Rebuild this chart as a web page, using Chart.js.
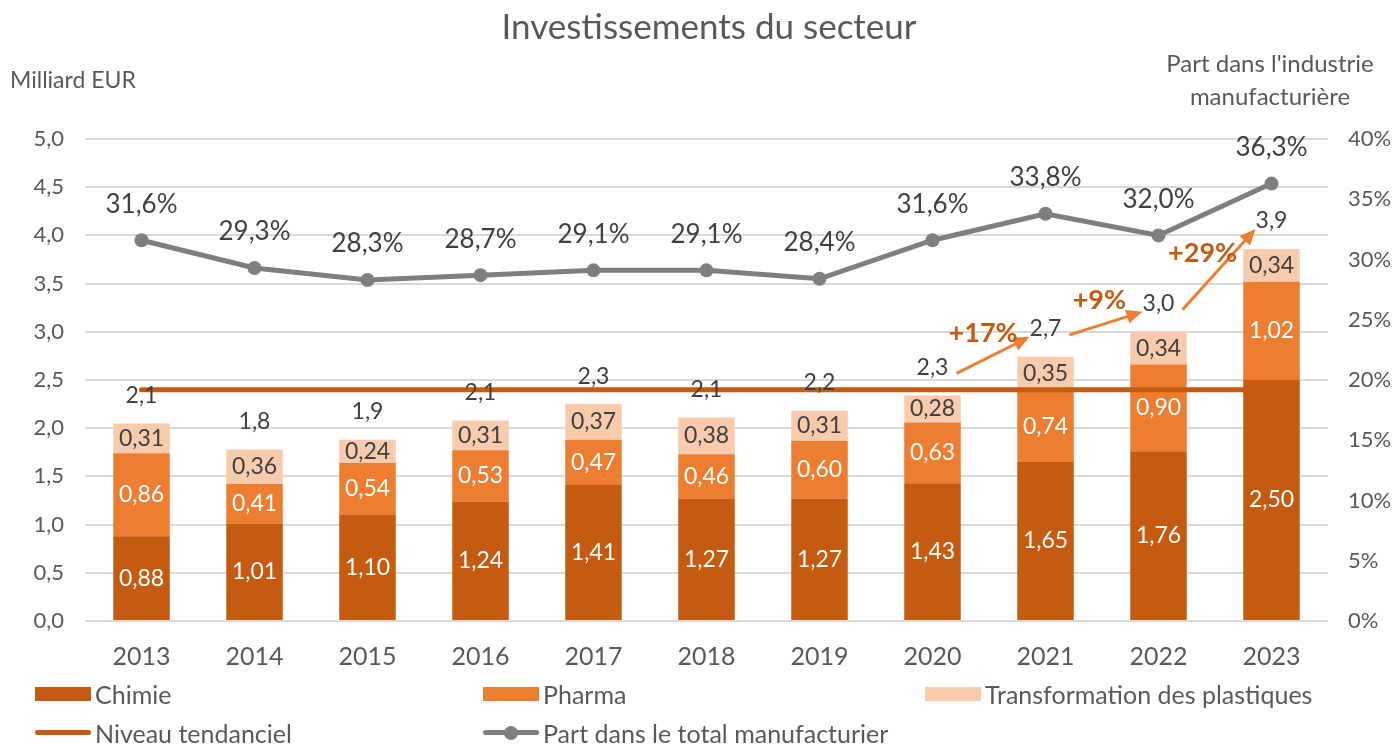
<!DOCTYPE html>
<html>
<head>
<meta charset="utf-8">
<script src="https://cdn.jsdelivr.net/npm/chart.js@4.4.1/dist/chart.umd.min.js"></script>
<style>
  body { margin: 0; background: #fff; font-family: Lato, "Open Sans", sans-serif; color: #595959; }
  #wrap { position: relative; width: 1395px; height: 744px; }
  canvas { position: absolute; left: 0; top: 0; }
  .txt { position: absolute; white-space: nowrap; }
  .leg { position: absolute; font-size: 25px; color: #595959; display: flex; align-items: center; }
  .sw { display: inline-block; width: 56px; height: 14px; margin-right: 4px; }
</style>
</head>
<body>
<div id="wrap">
  <canvas id="graf" width="1395" height="744"></canvas>
  <div class="txt" style="left:0;width:1418px;top:4px;text-align:center;font-size:35px;">Investissements du secteur</div>
  <div class="txt" style="left:10px;top:65px;font-size:23px;">Milliard EUR</div>
  <div class="txt" style="left:1120px;width:300px;top:46px;text-align:center;font-size:24px;line-height:33px;">Part dans l'industrie<br>manufacturière</div>
  <div class="leg" style="left:35px;top:679px;"><span class="sw" style="background:#C55A11"></span>Chimie</div>
  <div class="leg" style="left:483px;top:679px;"><span class="sw" style="background:#ED7D31"></span>Pharma</div>
  <div class="leg" style="left:925px;top:679px;"><span class="sw" style="background:#F8CBAD"></span>Transformation des plastiques</div>
  <div class="leg" style="left:35px;top:718px;"><span class="sw" style="background:none;position:relative;"><span style="position:absolute;left:0;right:0;top:4px;height:5px;border-radius:3px;background:#C55A11"></span></span>Niveau tendanciel</div>
  <div class="leg" style="left:483px;top:718px;"><span class="sw" style="background:none;position:relative;"><span style="position:absolute;left:0;right:0;top:4px;height:5px;border-radius:3px;background:#7F7F7F"></span><span style="position:absolute;left:21px;top:0;width:14px;height:14px;border-radius:7px;background:#7F7F7F"></span></span>Part dans le total manufacturier</div>
</div>
<script>
const annees = ['2013', '2014', '2015', '2016', '2017', '2018', '2019', '2020', '2021', '2022', '2023']
const chimie = [0.88, 1.01, 1.10, 1.24, 1.41, 1.27, 1.27, 1.43, 1.65, 1.76, 2.50]
const pharma = [0.86, 0.41, 0.54, 0.53, 0.47, 0.46, 0.60, 0.63, 0.74, 0.90, 1.02]
const plastiques = [0.31, 0.36, 0.24, 0.31, 0.37, 0.38, 0.31, 0.28, 0.35, 0.34, 0.34]
const partManuf = [31.6, 29.3, 28.3, 28.7, 29.1, 29.1, 28.4, 31.6, 33.8, 32.0, 36.3]
const niveauTendanciel = 2.4
// hausses annotees entre deux annees (fleches)
const hausses = [
    { de: '2020', vers: '2021', texte: '+17%' },
    { de: '2021', vers: '2022', texte: '+9%' },
    { de: '2022', vers: '2023', texte: '+29%' }
]

const totaux = annees.map((a, i) => chimie[i] + pharma[i] + plastiques[i])
const virgule = (v, d) => (Math.round(v * Math.pow(10, d) + 1e-6) / Math.pow(10, d)).toFixed(d).replace('.', ',')
const police = 'Lato, "Open Sans", sans-serif'

const etiquettes = {
    id: 'etiquettes',
    afterDatasetsDraw(chart) {
        const ctx = chart.ctx
        const sx = chart.scales.x, sy = chart.scales.y, sy1 = chart.scales.y1
        ctx.save()
        ctx.textAlign = 'center'
        ctx.textBaseline = 'middle'
        // valeurs dans les barres
        const couleurs = ['#ffffff', '#ffffff', '#404040']
        for (let d = 0; d < 3; d++) {
            const meta = chart.getDatasetMeta(d)
            ctx.font = '23px ' + police
            ctx.fillStyle = couleurs[d]
            meta.data.forEach((bar, i) => {
                const v = chart.data.datasets[d].data[i]
                ctx.fillText(virgule(v, 2), bar.x, (bar.y + bar.base) / 2)
            })
        }
        // totaux
        ctx.fillStyle = '#404040'
        ctx.font = '23px ' + police
        totaux.forEach((t, i) => {
            ctx.fillText(virgule(t, 1), sx.getPixelForValue(i), sy.getPixelForValue(t) - 28)
        })
        // part manufacturiere
        ctx.font = '26px ' + police
        partManuf.forEach((p, i) => {
            ctx.fillText(virgule(p, 1) + '%', sx.getPixelForValue(i), sy1.getPixelForValue(p) - 36)
        })
        // fleches de hausse
        hausses.forEach(h => {
            const i = annees.indexOf(h.de), j = annees.indexOf(h.vers)
            const x0 = sx.getPixelForValue(i) + 24, y0 = sy.getPixelForValue(totaux[i]) - 28 + 6
            const x1 = sx.getPixelForValue(j) - 16, y1 = sy.getPixelForValue(totaux[j]) - 28 + 8
            const ang = Math.atan2(y1 - y0, x1 - x0)
            ctx.strokeStyle = '#ED7D31'
            ctx.fillStyle = '#ED7D31'
            ctx.lineWidth = 3
            ctx.beginPath()
            ctx.moveTo(x0, y0)
            ctx.lineTo(x1 - 12 * Math.cos(ang), y1 - 12 * Math.sin(ang))
            ctx.stroke()
            ctx.beginPath()
            ctx.moveTo(x1, y1)
            ctx.lineTo(x1 - 16 * Math.cos(ang) + 7 * Math.sin(ang), y1 - 16 * Math.sin(ang) - 7 * Math.cos(ang))
            ctx.lineTo(x1 - 16 * Math.cos(ang) - 7 * Math.sin(ang), y1 - 16 * Math.sin(ang) + 7 * Math.cos(ang))
            ctx.closePath()
            ctx.fill()
            const mx = (x0 + x1) / 2, my = (y0 + y1) / 2
            ctx.fillStyle = '#C55A11'
            ctx.font = 'bold 27px ' + police
            ctx.fillText(h.texte, mx + 22 * Math.sin(ang), my - 24 * Math.cos(ang))
        })
        ctx.restore()
    }
}

const donnees = {
    labels: annees,
    datasets: [{
        label: 'Chimie',
        data: chimie,
        backgroundColor: '#C55A11',
        stack: 'inv',
        order: 3
    }, {
        label: 'Pharma',
        data: pharma,
        backgroundColor: '#ED7D31',
        stack: 'inv',
        order: 3
    }, {
        label: 'Transformation des plastiques',
        data: plastiques,
        backgroundColor: '#F8CBAD',
        stack: 'inv',
        order: 3
    }, {
        type: 'line',
        label: 'Niveau tendanciel',
        data: annees.map(() => niveauTendanciel),
        borderColor: '#C55A11',
        borderWidth: 5,
        borderCapStyle: 'round',
        pointRadius: 0,
        stack: 'tendance',
        order: 2
    }, {
        type: 'line',
        label: 'Part dans le total manufacturier',
        data: partManuf,
        yAxisID: 'y1',
        borderColor: '#7F7F7F',
        backgroundColor: '#7F7F7F',
        borderWidth: 5,
        pointRadius: 7,
        pointBorderWidth: 0,
        order: 1
    }]
}

const monGrafico = new Chart(document.getElementById('graf'), {
    type: 'bar',
    data: donnees,
    options: {
        responsive: false,
        animation: false,
        layout: { padding: { top: 139, left: 0, right: 0, bottom: 0 } },
        categoryPercentage: 1,
        barPercentage: 0.5,
        plugins: {
            legend: { display: false },
            tooltip: { enabled: false }
        },
        scales: {
            x: {
                stacked: true,
                grid: { display: false },
                border: { display: false },
                ticks: { color: '#595959', font: { family: police, size: 25 }, padding: 13 },
                afterFit: s => { s.height = 123 }
            },
            y: {
                stacked: true,
                min: 0,
                max: 5,
                grid: { color: '#D9D9D9', lineWidth: 2, drawTicks: false },
                border: { display: false },
                ticks: {
                    stepSize: 0.5,
                    color: '#595959',
                    font: { family: police, size: 22 },
                    padding: 21,
                    callback: v => virgule(v, 1)
                },
                afterFit: s => { s.width = 85 }
            },
            y1: {
                position: 'right',
                min: 0,
                max: 40,
                grid: { display: false },
                border: { display: false },
                ticks: {
                    stepSize: 5,
                    color: '#595959',
                    font: { family: police, size: 22 },
                    padding: 12,
                    callback: v => v + '%'
                },
                afterFit: s => { s.width = 67 }
            }
        }
    },
    plugins: [etiquettes]
})
</script>
</body>
</html>
